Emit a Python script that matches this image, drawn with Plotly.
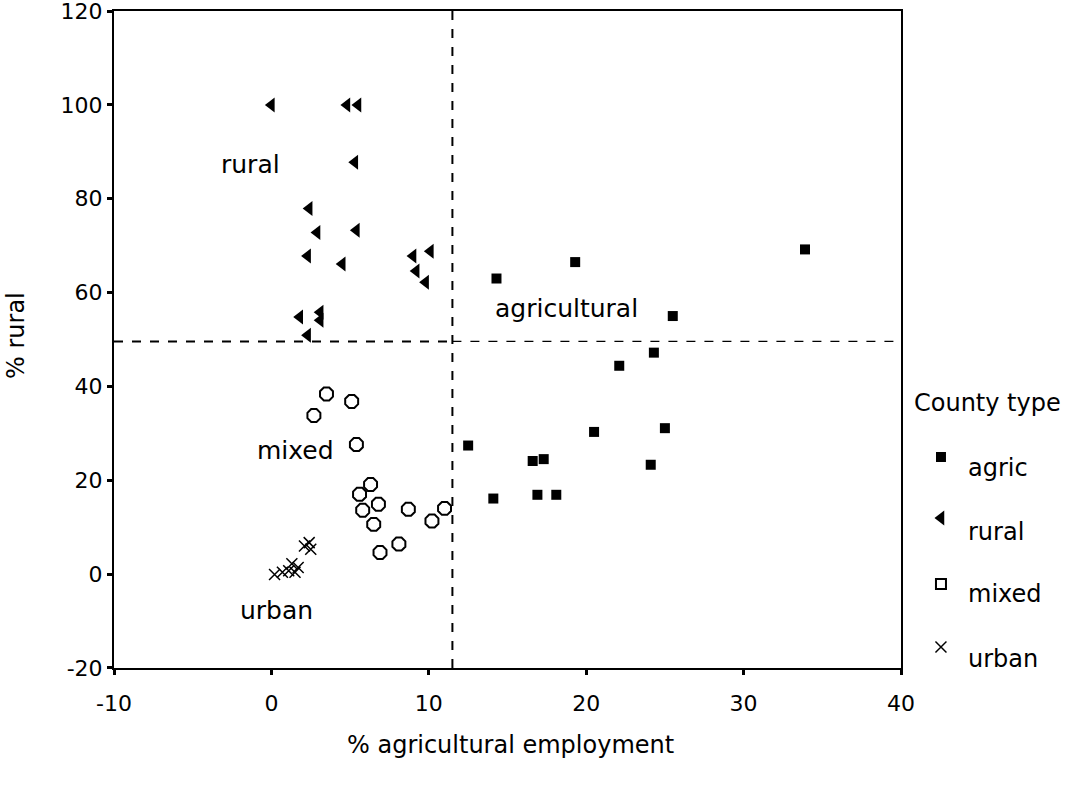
import plotly.graph_objects as go

# ---- data ----
agric_x = [33.9, 19.3, 14.3, 25.5, 24.3, 22.1, 20.5, 25.0, 12.5, 16.6, 17.3, 24.1, 14.1, 16.9, 18.1]
agric_y = [69.2, 66.5, 63.0, 55.0, 47.2, 44.4, 30.3, 31.1, 27.4, 24.1, 24.5, 23.3, 16.1, 16.9, 16.9]

rural_x = [0.0, 4.8, 5.5, 5.3, 2.4, 2.9, 5.4, 2.3, 4.5, 9.0, 10.1, 9.2, 9.8, 1.8, 3.1, 3.1, 2.3]
rural_y = [100.0, 100.0, 100.0, 87.8, 77.9, 72.8, 73.3, 67.8, 66.1, 67.8, 68.8, 64.6, 62.2, 54.8, 55.8, 54.1, 50.9]

mixed_x = [3.5, 5.1, 2.7, 5.4, 6.3, 5.6, 6.8, 5.8, 8.7, 11.0, 10.2, 6.5, 8.1, 6.9]
mixed_y = [38.4, 36.8, 33.8, 27.6, 19.1, 17.0, 14.9, 13.6, 13.8, 14.0, 11.3, 10.6, 6.4, 4.6]

urban_x = [0.2, 0.7, 1.1, 1.3, 1.5, 1.7, 2.1, 2.4, 2.5]
urban_y = [-0.1, 0.4, 0.7, 2.2, 0.4, 1.4, 6.0, 6.7, 5.3]

cut_x = 11.5   # vertical reference line
cut_y = 49.6   # horizontal reference line

x_ticks = [-10, 0, 10, 20, 30, 40]
x_ticktext = ["-10", "0", "10", "20", "30", "40"]
y_ticks = [-20, 0, 20, 40, 60, 80, 100, 120]
y_ticktext = ["-20", "0", "20", "40", "60", "80", "100", "120"]

region_labels = ["rural", "agricultural", "mixed", "urban"]
region_x = [-1.3, 18.75, 1.5, 0.3]
region_y = [87.4, 56.7, 26.4, -7.7]

legend_title = "County type"
legend_names = ["agric", "rural", "mixed", "urban"]

FONT = "DejaVu Sans"

# layout geometry (pixels)
W, H = 1073, 789
L, T, B = 114, 11, 121
PLOT_R = 901
pw = W - L
main_dom = [0, (PLOT_R - L) / pw]

styles = {
    "agric": dict(symbol="square", size=10, color="black"),
    "rural": dict(symbol="triangle-left", size=13, color="black"),
    "mixed": dict(symbol="octagon-open", size=14, color="black", line=dict(width=2, color="black")),
    "urban": dict(symbol="x-thin-open", size=11, color="black", line=dict(width=1.5, color="black")),
}
legend_styles = dict(styles)
legend_styles["mixed"] = dict(symbol="square-open", size=10, color="black", line=dict(width=2, color="black"))

fig = go.Figure()
for name, xs, ys in [("agric", agric_x, agric_y), ("rural", rural_x, rural_y),
                     ("mixed", mixed_x, mixed_y), ("urban", urban_x, urban_y)]:
    fig.add_trace(go.Scatter(x=xs, y=ys, mode="markers", name=name, showlegend=False,
                             marker=styles[name], cliponaxis=False))

# reference lines
fig.add_shape(type="line", x0=cut_x, x1=cut_x, y0=-20, y1=120, xref="x", yref="y",
              line=dict(color="black", width=2, dash="dash"))
fig.add_shape(type="line", x0=-10, x1=cut_x, y0=cut_y, y1=cut_y, xref="x", yref="y",
              line=dict(color="black", width=2, dash="dash"))
fig.add_shape(type="line", x0=cut_x, x1=40, y0=cut_y, y1=cut_y, xref="x", yref="y",
              line=dict(color="black", width=1.2, dash="dash"))

for t, xx, yy in zip(region_labels, region_x, region_y):
    fig.add_annotation(x=xx, y=yy, text=t, showarrow=False,
                       font=dict(family=FONT, size=25, color="black"))

# axis titles
fig.add_annotation(xref="paper", yref="paper", x=(510 - L) / pw, y=(H - B - 745) / (H - T - B),
                   xanchor="center", yanchor="middle",
                   text="% agricultural employment", showarrow=False,
                   font=dict(family=FONT, size=24, color="black"))
fig.add_annotation(xref="paper", yref="paper", x=(16 - L) / pw, y=(H - B - 336) / (H - T - B),
                   xanchor="center", yanchor="middle",
                   text="% rural", textangle=-90, showarrow=False,
                   font=dict(family=FONT, size=24, color="black"))

# manual legend drawn on a pixel-scaled overlay axis
leg_marker_x = 941
leg_text_x = 966
leg_marker_y = [457, 518, 584, 647]
leg_text_y = [468, 532, 594, 659]
for name, my in zip(legend_names, leg_marker_y):
    fig.add_trace(go.Scatter(x=[leg_marker_x], y=[my], mode="markers", showlegend=False,
                             xaxis="x2", yaxis="y2", marker=legend_styles[name], hoverinfo="skip"))
for name, ty in zip(legend_names, leg_text_y):
    fig.add_annotation(xref="x2", yref="y2", x=leg_text_x, y=ty, text=name, showarrow=False,
                       xanchor="left", yanchor="middle", font=dict(family=FONT, size=24, color="black"))
fig.add_annotation(xref="x2", yref="y2", x=912, y=403, text=legend_title, showarrow=False,
                   xanchor="left", yanchor="middle", font=dict(family=FONT, size=24, color="black"))

axis_common = dict(showgrid=False, zeroline=False, showline=True, linecolor="black", linewidth=2,
                   mirror=True, ticks="outside", ticklen=5, tickwidth=3, tickcolor="black",
                   automargin=False, ticklabeloverflow="allow",
                   tickfont=dict(family=FONT, size=22, color="black"))
fig.update_layout(
    xaxis=dict(range=[-10, 40], tickmode="array", tickvals=x_ticks, ticktext=x_ticktext,
               domain=main_dom, ticklabelstandoff=10, **axis_common),
    yaxis=dict(range=[-20.02, 120.02], tickmode="array", tickvals=y_ticks, ticktext=y_ticktext,
               **axis_common),
    xaxis2=dict(domain=[main_dom[1] + 0.001, 1], range=[PLOT_R + 1, W], visible=False,
                anchor="y2", fixedrange=True),
    yaxis2=dict(domain=[0, 1], range=[H - B, T], visible=False, anchor="x2", fixedrange=True),
    width=W, height=H,
    margin=dict(l=L, r=0, t=T, b=B, autoexpand=False),
    plot_bgcolor="white", paper_bgcolor="white",
    font=dict(family=FONT, color="black"),
    showlegend=False,
)

fig.write_html("out.html", config={"displayModeBar": False},
               post_script="document.body.style.margin='0px';document.body.style.padding='0px';")
